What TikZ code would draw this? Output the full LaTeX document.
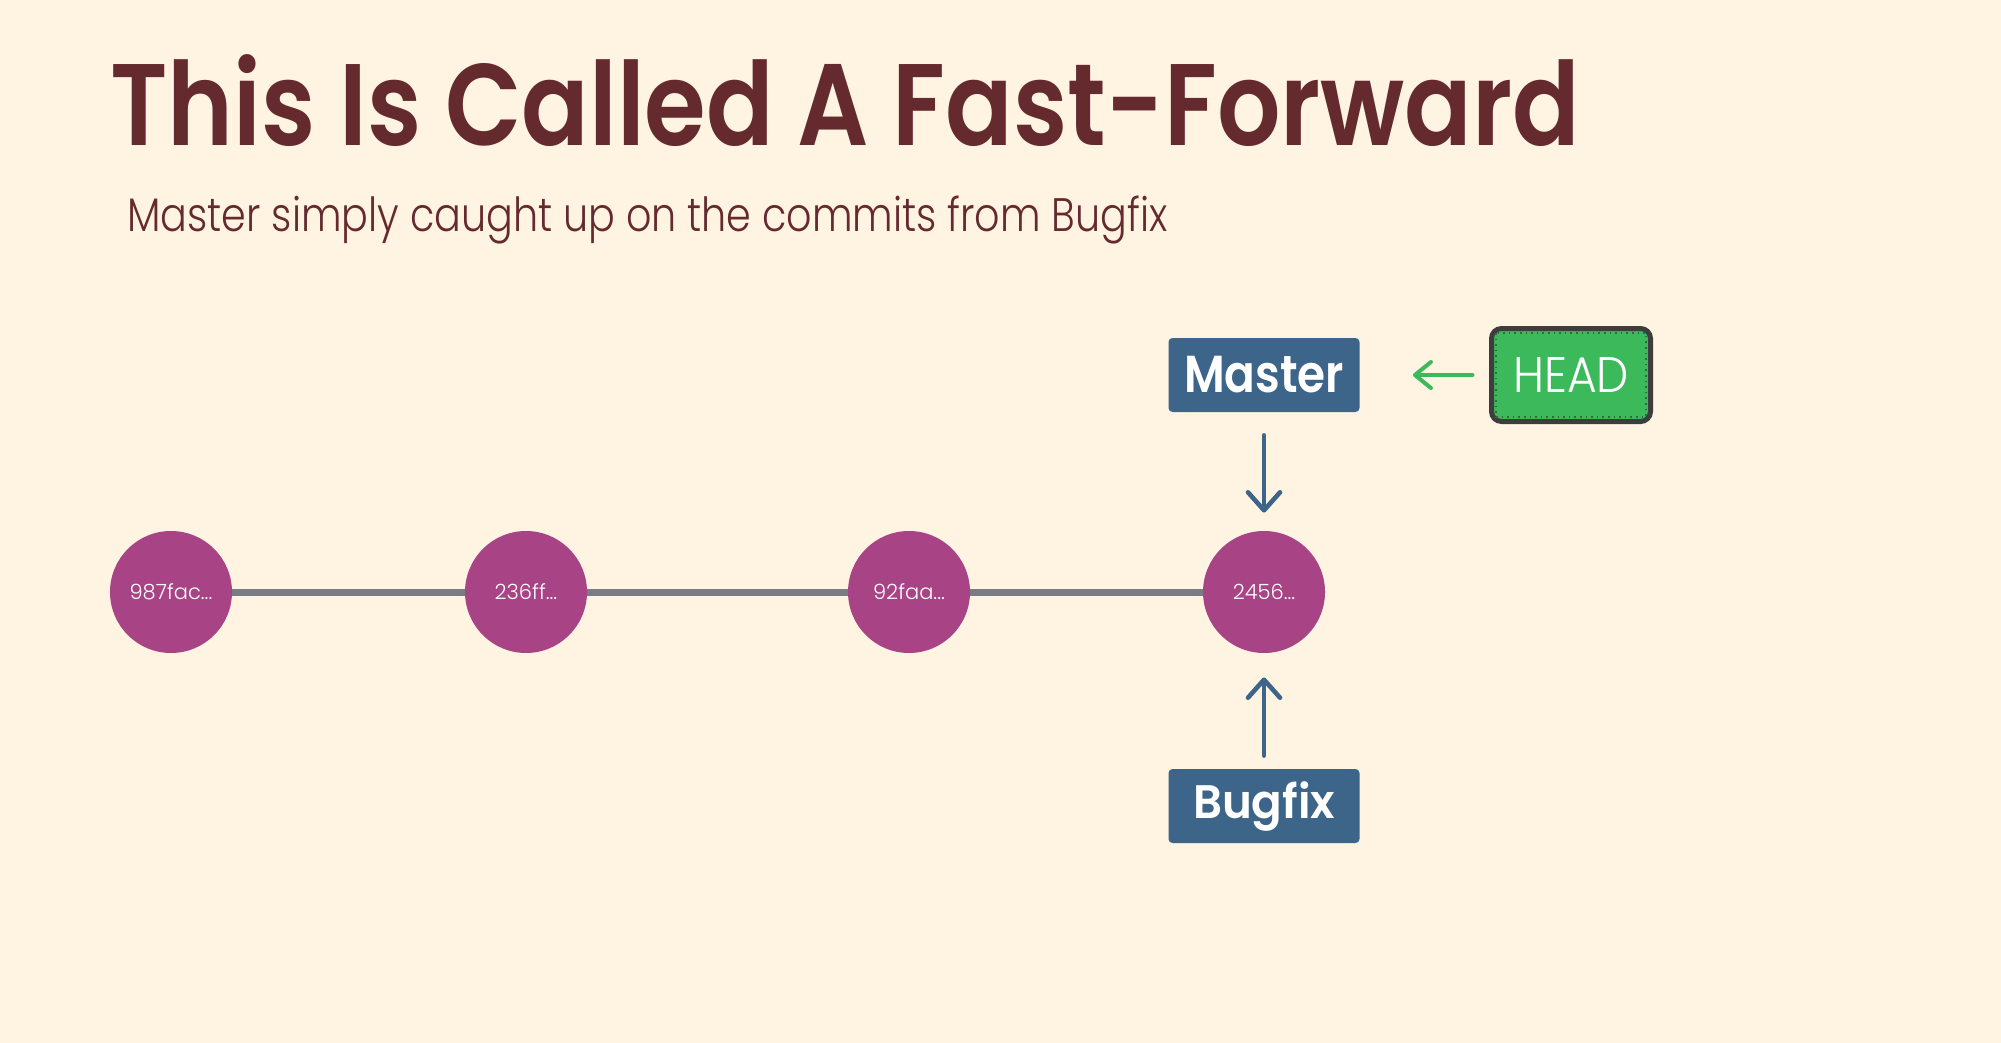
\documentclass[tikz,border=0pt]{standalone}
\usepackage{fontspec}
\usepackage{graphicx}
\setmainfont{Poppins}
\newfontfamily\semifont{Poppins SemiBold}
\newfontfamily\mediumfont{Poppins Medium}
\newfontfamily\lightfont{Poppins Light}
\usetikzlibrary{arrows.meta}

\definecolor{bgcream}{HTML}{FFF3E2}
\definecolor{maroon}{HTML}{652A2E}
\definecolor{commitpurple}{HTML}{A84386}
\definecolor{linegray}{HTML}{797B85}
\definecolor{branchblue}{HTML}{3C6589}
\definecolor{headgreen}{HTML}{3CB95A}
\definecolor{headborder}{HTML}{3D3D3D}

% stretch a text to a given width, keeping its height
\newcommand{\fitw}[2]{\resizebox{#1}{\height}{#2}}

\begin{document}
\begin{tikzpicture}[x=0.5pt,y=-0.5pt,
    commit/.style={circle,fill=commitpurple,minimum size=61pt,inner sep=0pt,
      text=white,font=\lightfont\fontsize{10.5pt}{10.5pt}\selectfont},
    branch/.style={rectangle,rounded corners=2pt,fill=branchblue,text=white,
      minimum width=95.5pt,minimum height=37pt,inner sep=0pt},
    headbox/.style={rectangle,rounded corners=5pt,fill=headgreen,draw=headborder,
      line width=2.5pt,minimum width=79.5pt,minimum height=46.5pt,inner sep=0pt,text=white},
    commitline/.style={linegray,line width=3.5pt},
    pointer/.style={branchblue,line width=2.3pt,line cap=round,
      -{Straight Barb[length=9pt,width=16pt,round]}},
    headpointer/.style={headgreen,line width=2pt,line cap=round,
      -{Straight Barb[length=8pt,width=13pt,round]}}]

    % Background
    \fill[bgcream] (0,0) rectangle (2001,1043);
    \useasboundingbox (0,0) rectangle (2001,1043);

    % Title and subtitle
    \node[anchor=base west,inner sep=0pt,text=maroon] (title) at (110,146)
      {\semifont\fontsize{58pt}{58pt}\selectfont\fitw{735pt}{This Is Called A Fast-Forward}};
    \node[anchor=base west,inner sep=0pt,text=maroon] (subtitle) at (127,232)
      {\lightfont\fontsize{23.5pt}{23.5pt}\selectfont\fitw{520pt}{Master simply caught up on the commits from Bugfix}};

    % Draw the commits
    \node[commit] (c1) at (171,592) {987fac...};
    \node[commit] (c2) at (526,592) {236ff...};
    \node[commit] (c3) at (909,592) {92faa...};
    \node[commit] (c4) at (1264,592) {2456...};
    \foreach \a/\b in {c1/c2,c2/c3,c3/c4}
        \draw[commitline] (\a) -- (\b);

    % Draw the branches and HEAD
    \node[branch] (master) at (1264,375)
      {\semifont\fontsize{26pt}{26pt}\selectfont\fitw{80pt}{Master}};
    \node[branch] (bugfix) at (1264,806)
      {\semifont\fontsize{23.5pt}{23.5pt}\selectfont\fitw{71pt}{Bugfix}};
    \node[headbox] (head) at (1571,375)
      {\lightfont\fontsize{25pt}{25pt}\selectfont\fitw{58pt}{HEAD}};
    \draw[headborder!70!headgreen,line width=0.8pt,dotted]
      ([shift={(3.5pt,-3.5pt)}]head.north west) rectangle ([shift={(-3.5pt,3.5pt)}]head.south east);

    % Pointers
    \draw[pointer,shorten <=11.5pt,shorten >=9pt] (master) -- (c4);
    \draw[pointer,shorten <=6.5pt,shorten >=12pt] (bugfix) -- (c4);
    \draw[headpointer,shorten <=8.25pt,shorten >=26.5pt] (head) -- (master);
\end{tikzpicture}
\end{document}
